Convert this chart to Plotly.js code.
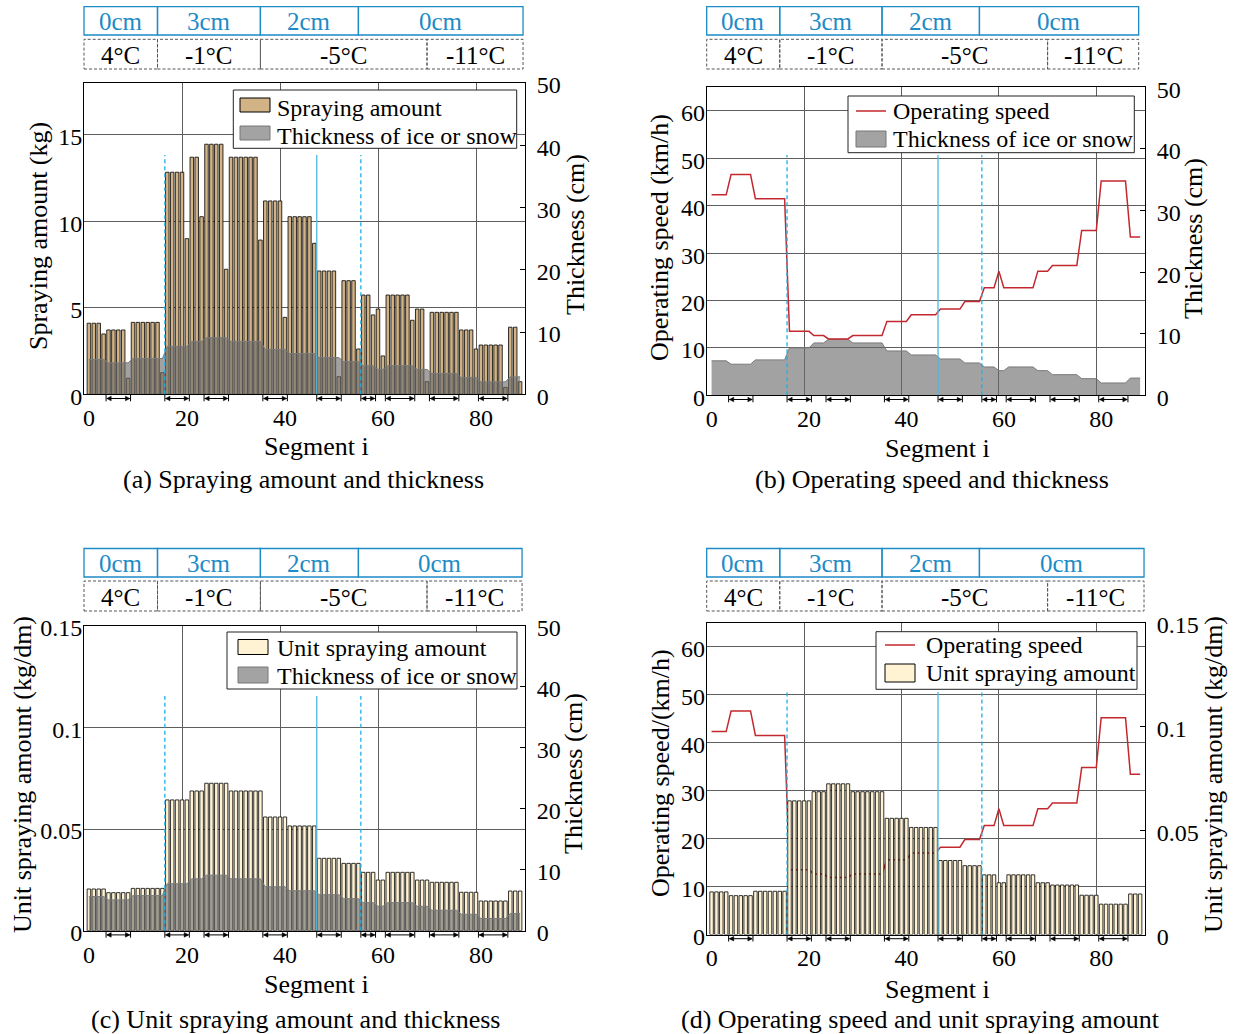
<!DOCTYPE html>
<html>
<head>
<meta charset="utf-8">
<script src="https://cdn.plot.ly/plotly-3.0.1.min.js"></script>
<style>
html,body{margin:0;padding:0;background:#fff;}
#chart{width:1234px;height:1034px;}
</style>
</head>
<body>
<div id="chart"></div>
<script>
// ---------------- DATA ----------------
const segments = [1,2,3,4,5,6,7,8,9,10,11,12,13,14,15,16,17,18,19,20,21,22,23,24,25,26,27,28,29,30,
  31,32,33,34,35,36,37,38,39,40,41,42,43,44,45,46,47,48,49,50,51,52,53,54,55,56,57,58,59,60,
  61,62,63,64,65,66,67,68,69,70,71,72,73,74,75,76,77,78,79,80,81,82,83,84,85,86,87,88,89];

// Spraying amount (kg), panel (a)
const sprayingAmount = [4.11,4.11,4.11,3.49, 3.72,3.72,3.72,3.72,0.93, 4.16,4.16,4.16,4.16,4.16,4.16,1.25,
  12.84,12.84,12.84,12.84,9.00, 13.71,13.71,10.27, 14.46,14.46,14.46,14.46,7.23,
  13.71,13.71,13.71,13.71,13.71,13.71,8.92, 11.18,11.18,11.18,11.18,4.45,
  10.27,10.27,10.27,10.27,10.27,8.73, 7.13,7.13,7.13,7.13,1.02, 6.57,6.57,6.57,2.62,
  5.74,5.74,4.59, 4.93,2.22, 5.74,5.74,5.74,5.74,5.74,4.28, 4.93,4.93,0.73,
  4.74,4.74,4.74,4.74,4.74,4.74, 3.72,3.72,3.72,2.62, 2.85,2.85,2.85,2.85,2.85,0.40, 3.88,3.88,0.73];

// Unit spraying amount (kg/dm), panels (c) and (d)
const unitSprayingAmount = [0.0205,0.0205,0.0205,0.0205, 0.0187,0.0187,0.0187,0.0187,0.0187,
  0.0208,0.0208,0.0208,0.0208,0.0208,0.0208,0.0208, 0.0643,0.0643,0.0643,0.0643,0.0643,
  0.0687,0.0687,0.0687, 0.0725,0.0725,0.0725,0.0725,0.0725,
  0.0687,0.0687,0.0687,0.0687,0.0687,0.0687,0.0687, 0.0559,0.0559,0.0559,0.0559,0.0559,
  0.0515,0.0515,0.0515,0.0515,0.0515,0.0515, 0.0356,0.0356,0.0356,0.0356,0.0356,
  0.0331,0.0331,0.0331,0.0331, 0.0287,0.0287,0.0287, 0.0249,0.0249,
  0.0287,0.0287,0.0287,0.0287,0.0287,0.0287, 0.0249,0.0249,0.0249,
  0.0238,0.0238,0.0238,0.0238,0.0238,0.0238, 0.0189,0.0189,0.0189,0.0189,
  0.0146,0.0146,0.0146,0.0146,0.0146,0.0146, 0.0195,0.0195,0.0195];

// Operating speed (km/h), panels (b) and (d)
const operatingSpeed = [42.3,42.3,42.3,42.3, 46.6,46.6,46.6,46.6,46.6, 41.5,41.5,41.5,41.5,41.5,41.5,41.5,
  13.5,13.5,13.5,13.5,13.5, 12.6,12.6,12.6, 11.9,11.9,11.9,11.9,11.9,
  12.6,12.6,12.6,12.6,12.6,12.6,12.6, 15.6,15.6,15.6,15.6,15.6, 17.0,17.0,17.0,17.0,17.0,17.0,
  18.2,18.2,18.2,18.2,18.2, 19.8,19.8,19.8,19.8, 22.7,22.7,22.7, 26.2,
  22.7,22.7,22.7,22.7,22.7,22.7,22.7, 26.2,26.2,26.2, 27.4,27.4,27.4,27.4,27.4,27.4,
  34.8,34.8,34.8,34.8, 45.2,45.2,45.2,45.2,45.2,45.2, 33.4,33.4,33.4];

// Thickness of ice or snow (cm), panels (a), (b), (c)
const iceSnowThickness = [5.6,5.6,5.6,5.6, 5.05,5.05,5.05,5.05,5.05, 5.75,5.75,5.75,5.75,5.75,5.75,5.75,
  7.7,7.7,7.7,7.7,7.7, 8.5,8.5,8.5, 9.1,9.1,9.1,9.1,9.1, 8.5,8.5,8.5,8.5,8.5,8.5,8.5,
  7.2,7.2,7.2,7.2,7.2, 6.55,6.55,6.55,6.55,6.55,6.55, 5.9,5.9,5.9,5.9,5.9, 5.25,5.25,5.25,5.25,
  4.6,4.6,4.6, 4.0,4.0, 4.6,4.6,4.6,4.6,4.6,4.6, 4.0,4.0,4.0, 3.35,3.35,3.35,3.35,3.35,3.35,
  2.7,2.7,2.7,2.7, 2.0,2.0,2.0,2.0,2.0,2.0, 2.8,2.8,2.8];

const xTickVals = [0,20,40,60,80];
const xTickText = ['0','20','40','60','80'];
const headerThickness = ['0cm','3cm','2cm','0cm'];
const headerThicknessBounds = [0,15,36,56];
const headerTemperature = ['4°C','-1°C','-5°C','-11°C'];
const headerTemperatureBounds = [0,15,36,70];
const boundaryLines = [16.5,47.5,56.5];
const boundaryDashed = [true,false,true];
const markedStart = [4.5,16.5,24.5,36.5,47.5,56.5,61.5,70.5,80.5];
const markedEnd   = [9.5,21.5,29.5,41.5,52.5,59.5,67.5,76.5,86.5];

// ---------------- STYLE / LAYOUT ----------------
const W = 1234, H = 1034;
const FONT = '"Liberation Serif","Times New Roman",Times,serif';
const PX = x => x / W;
const PY = y => 1 - y / H;
const TAN = '#d2b386', CREAM = '#fff3d4', GRAYFILL = 'rgba(105,105,105,0.62)', RED = '#c3282e';
const BLUE = '#1c8bc6', CYAN = '#1db0ea', CYAN2 = '#52b6df';
const GRID = '#5e5e5e';

const P = {
  a:{xa:'x',  L:84,    R:525,  T:83,    B:394.3, hdr:[6.7,35,39.3,69],   hdrRight:89.6, cyanTop:155},
  b:{xa:'x2', L:706.7, R:1145, T:87.3,  B:395.3, hdr:[6.7,35,39.3,69],   hdrRight:88.7, cyanTop:155},
  c:{xa:'x3', L:84,    R:525,  T:625.6, B:930.7, hdr:[548.5,577,581,611], hdrRight:89.4, cyanTop:696},
  d:{xa:'x4', L:706.7, R:1145, T:622.7, B:934.5, hdr:[548.5,577,581,611], hdrRight:89.8, cyanTop:692}
};
const dpx = (p, v) => p.L + v * (p.R - p.L) / 90;

const tickFont = {family:FONT, size:24, color:'#000'};

function xAxis(p, anchor){
  return {domain:[PX(p.L), PX(p.R)], anchor:anchor, range:[0,90], tickmode:'array',
    tickvals:xTickVals, ticktext:xTickText, showgrid:true, gridcolor:GRID, gridwidth:1,
    showline:true, linecolor:'#000', linewidth:1, mirror:true, ticks:'', zeroline:false,
    tickfont:tickFont, ticklabelshift:5, ticklabelstandoff:2, fixedrange:true};
}
function yAxis(p, anchor, range, vals, text, side, grid, overlay){
  const a = {domain:[PY(p.B), PY(p.T)], anchor:anchor, range:range, tickmode:'array',
    tickvals:vals, ticktext:text, side:side, showgrid:grid, gridcolor:GRID, gridwidth:1,
    showline:true, linecolor:'#000', linewidth:1, zeroline:false, tickfont:tickFont,
    fixedrange:true, ticklabelshift:2};
  if (side === 'right'){ a.ticks='inside'; a.ticklen=5; a.tickcolor='#000'; a.ticklabelstandoff=6; }
  else { a.ticks=''; a.ticklabelstandoff=-4; }
  if (overlay) a.overlaying = overlay;
  return a;
}
const thickVals = [0,10,20,30,40,50], thickText = ['0','10','20','30','40','50'];
const speedVals = [0,10,20,30,40,50,60], speedText = ['0','10','20','30','40','50','60'];
const unitVals = [0,0.05,0.1,0.15], unitText = ['0','0.05','0.1','0.15'];

const layout = {
  width:W, height:H, margin:{l:0,r:0,t:0,b:0}, paper_bgcolor:'#fff', plot_bgcolor:'rgba(0,0,0,0)',
  showlegend:false, hovermode:false, font:{family:FONT, color:'#000'},
  xaxis:  xAxis(P.a,'y'),
  yaxis:  yAxis(P.a,'x',[0,18],[0,5,10,15],['0','5','10','15'],'left',true),
  yaxis2: yAxis(P.a,'x',[0,50],thickVals,thickText,'right',false,'y'),
  xaxis2: xAxis(P.b,'y3'),
  yaxis3: yAxis(P.b,'x2',[0,50],thickVals,thickText,'right',false),
  yaxis4: yAxis(P.b,'x2',[0,65],speedVals,speedText,'left',true,'y3'),
  xaxis3: xAxis(P.c,'y5'),
  yaxis5: yAxis(P.c,'x3',[0,0.15],unitVals,unitText,'left',true),
  yaxis6: yAxis(P.c,'x3',[0,50],thickVals,thickText,'right',false,'y5'),
  xaxis4: xAxis(P.d,'y7'),
  yaxis7: yAxis(P.d,'x4',[0,65],speedVals,speedText,'left',true),
  yaxis8: yAxis(P.d,'x4',[0,0.15],unitVals,unitText,'right',false,'y7'),
  shapes:[], annotations:[]
};

const shapes = layout.shapes, ann = layout.annotations;
function rectPx(x0,y0,x1,y1,line,fill){
  shapes.push({type:'rect', xref:'paper', yref:'paper', x0:PX(x0), x1:PX(x1), y0:PY(y1), y1:PY(y0),
    line:line, fillcolor:fill||'rgba(0,0,0,0)', layer:'above'});
}
function linePx(x0,y0,x1,y1,line){
  shapes.push({type:'line', xref:'paper', yref:'paper', x0:PX(x0), x1:PX(x1), y0:PY(y0), y1:PY(y1), line:line, layer:'above'});
}
function textPx(x,y,txt,size,opts){
  ann.push(Object.assign({xref:'paper', yref:'paper', x:PX(x), y:PY(y), text:txt, showarrow:false,
    xanchor:'center', yanchor:'middle', font:{family:FONT, size:size, color:'#000'}}, opts||{}));
}

// headers, boundary lines, segment markers
Object.keys(P).forEach(k => {
  const p = P[k];
  const [t1,b1,t2,b2] = p.hdr;
  const tb = headerThicknessBounds.concat([p.hdrRight]);
  for (let i = 0; i < headerThickness.length; i++){
    const x0 = dpx(p, tb[i]), x1 = dpx(p, tb[i+1]);
    rectPx(x0,t1,x1,b1,{color:BLUE,width:1.3});
    textPx((x0+x1)/2,(t1+b1)/2+1,headerThickness[i],25,{font:{family:FONT,size:25,color:BLUE}});
  }
  const bb = headerTemperatureBounds.concat([p.hdrRight]);
  for (let i = 0; i < headerTemperature.length; i++){
    const x0 = dpx(p, bb[i]), x1 = dpx(p, bb[i+1]);
    rectPx(x0,t2,x1,b2,{color:'#555',width:1,dash:'3px,2px'});
    textPx((x0+x1)/2,(t2+b2)/2+1,headerTemperature[i],25);
  }
  for (let i = 0; i < boundaryLines.length; i++){
    shapes.push({type:'line', xref:p.xa, yref:'paper', x0:boundaryLines[i], x1:boundaryLines[i],
      y0:PY(p.B), y1:PY(p.cyanTop), layer:'above',
      line:{color:boundaryDashed[i]?CYAN:CYAN2, width:1.3, dash:boundaryDashed[i]?'4px,3px':'solid'}});
  }
  const ay = p.B + 4.2, hx = 0.9, hy = 2.3 / H;
  for (let i = 0; i < markedStart.length; i++){
    const s = markedStart[i], e = markedEnd[i];
    shapes.push({type:'line', xref:p.xa, yref:'paper', x0:s+0.15, x1:e-0.15, y0:PY(ay), y1:PY(ay), line:{color:'#000',width:1}, layer:'above'});
    [s,e].forEach(v => shapes.push({type:'line', xref:p.xa, yref:'paper', x0:v, x1:v, y0:PY(p.B), y1:PY(p.B+7), line:{color:'#000',width:1}, layer:'above'}));
    shapes.push({type:'path', xref:p.xa, yref:'paper', layer:'above', fillcolor:'#000', line:{color:'#000',width:0.5},
      path:`M${s+0.15},${PY(ay)} L${s+0.15+hx},${PY(ay)+hy} L${s+0.15+hx},${PY(ay)-hy} Z`});
    shapes.push({type:'path', xref:p.xa, yref:'paper', layer:'above', fillcolor:'#000', line:{color:'#000',width:0.5},
      path:`M${e-0.15},${PY(ay)} L${e-0.15-hx},${PY(ay)+hy} L${e-0.15-hx},${PY(ay)-hy} Z`});
  }
});

// legends (drawn manually)
function legend(box, rows){
  rectPx(box[0],box[2],box[1],box[3],{color:'#222',width:1},'#fff');
  rows.forEach(r => {
    if (r.kind === 'line') linePx(r.sx, r.y, r.sx+30, r.y, {color:RED,width:1.5});
    else rectPx(r.sx, r.y-r.h/2, r.sx+30, r.y+r.h/2, {color:r.edge,width:1}, r.fill);
    textPx(r.tx, r.y+r.dy, r.text, 24, {xanchor:'left'});
  });
}
legend([233.3,516.7,90,148.3],[
  {kind:'box', sx:240, y:105, h:14, fill:TAN, edge:'#000', tx:275, dy:3, text:'Spraying amount'},
  {kind:'box', sx:240, y:133, h:14, fill:'#a3a3a3', edge:'#777', tx:275, dy:3, text:'Thickness of ice or snow'}]);
legend([848,1134.3,96,152.7],[
  {kind:'line', sx:856, y:111, tx:891, dy:0, text:'Operating speed'},
  {kind:'box', sx:856, y:139, h:16, fill:'#a3a3a3', edge:'#777', tx:891, dy:0, text:'Thickness of ice or snow'}]);
legend([227,517,632,689],[
  {kind:'box', sx:238, y:647, h:15, fill:CREAM, edge:'#000', tx:275, dy:1, text:'Unit spraying amount'},
  {kind:'box', sx:238, y:675, h:16, fill:'#a3a3a3', edge:'#777', tx:275, dy:1, text:'Thickness of ice or snow'}]);
legend([876,1137,631.7,689.3],[
  {kind:'line', sx:885, y:645, tx:924, dy:0, text:'Operating speed'},
  {kind:'box', sx:885, y:673, h:18, fill:CREAM, edge:'#000', tx:924, dy:0, text:'Unit spraying amount'}]);

// axis titles and captions
const T = 26;
textPx(38,236,'Spraying amount (kg)',T,{textangle:-90});
textPx(575,235,'Thickness (cm)',T,{textangle:-90});
textPx(660,237,'Operating speed (km/h)',T,{textangle:-90});
textPx(1193,239,'Thickness (cm)',T,{textangle:-90});
textPx(22,775,'Unit spraying amount (kg/dm)',T,{textangle:-90});
textPx(573,774,'Thickness (cm)',T,{textangle:-90});
textPx(660,773,'Operating speed/(km/h)',T,{textangle:-90});
textPx(1213,775,'Unit spraying amount (kg/dm)',T,{textangle:-90});
textPx(316,447,'Segment i',T);
textPx(937,448,'Segment i',T);
textPx(316,984,'Segment i',T);
textPx(938,989,'Segment i',T);
textPx(303,480,'(a) Spraying amount and thickness',T);
textPx(932,480,'(b) Operating speed and thickness',T);
textPx(295,1019,'(c) Unit spraying amount and thickness',T);
textPx(920,1019,'(d) Operating speed and unit spraying amount',T);

// ---------------- TRACES ----------------
const barStyle = c => ({color:c, line:{color:'#000', width:0.8}});
const area = (xa, ya) => ({type:'scatter', mode:'lines', x:segments, y:iceSnowThickness, xaxis:xa, yaxis:ya,
  fill:'tozeroy', fillcolor:GRAYFILL, line:{color:'#7a7a7a', width:1}, name:'Thickness of ice or snow'});
const speedLine = (xa, ya) => ({type:'scatter', mode:'lines', x:segments, y:operatingSpeed, xaxis:xa, yaxis:ya,
  line:{color:RED, width:1.5}, name:'Operating speed'});

const data = [
  {type:'bar', x:segments, y:sprayingAmount, xaxis:'x', yaxis:'y', width:0.72, marker:barStyle(TAN), name:'Spraying amount'},
  area('x','y2'),
  area('x2','y3'),
  speedLine('x2','y4'),
  {type:'bar', x:segments, y:unitSprayingAmount, xaxis:'x3', yaxis:'y5', width:0.72, marker:barStyle(CREAM), name:'Unit spraying amount'},
  area('x3','y6'),
  speedLine('x4','y7'),
  {type:'bar', x:segments, y:unitSprayingAmount, xaxis:'x4', yaxis:'y8', width:0.72, marker:barStyle(CREAM), name:'Unit spraying amount'}
];

Plotly.newPlot('chart', data, layout, {staticPlot:true, displayModeBar:false});
</script>
</body>
</html>
